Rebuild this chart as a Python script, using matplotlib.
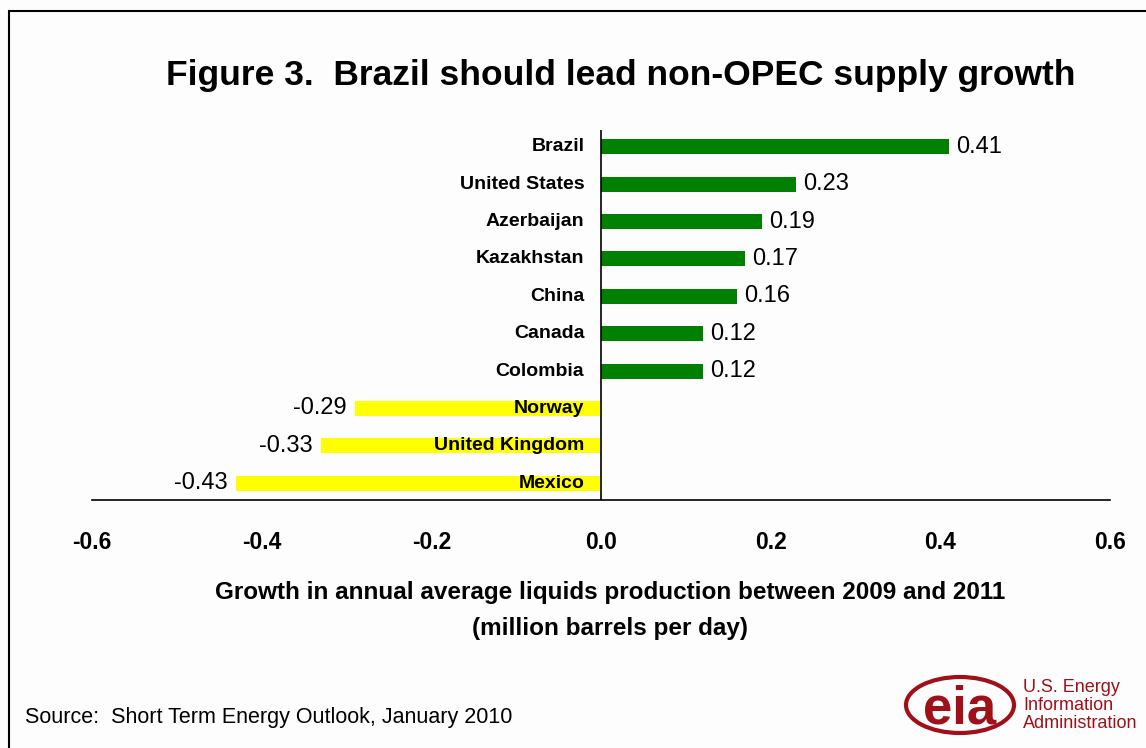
import matplotlib.pyplot as plt
from matplotlib.patches import Rectangle, Ellipse

plt.rcParams['font.family'] = ['Liberation Sans', 'DejaVu Sans']

countries = ['Brazil', 'United States', 'Azerbaijan', 'Kazakhstan', 'China',
             'Canada', 'Colombia', 'Norway', 'United Kingdom', 'Mexico']
growth = [0.41, 0.23, 0.19, 0.17, 0.16, 0.12, 0.12, -0.29, -0.33, -0.43]
xticks = [-0.6, -0.4, -0.2, 0.0, 0.2, 0.4, 0.6]

green = '#008000'
yellow = '#ffff00'

fig = plt.figure(figsize=(11.46, 7.48), dpi=100, facecolor='#fdfdfd')
ax = fig.add_axes([92/1146, 1 - 500/748, (1110-92)/1146, (500-130)/748])
ax.set_facecolor('none')

n = len(countries)
ypos = [n - 1 - i for i in range(n)]
colors = [green if v > 0 else yellow for v in growth]
ax.barh(ypos, growth, height=0.4, color=colors)

for y, v, name in zip(ypos, growth, countries):
    ax.annotate(name, (0, y), xytext=(-12, 0), textcoords='offset points',
                ha='right', va='center', fontsize=14, fontweight='bold')
    if v > 0:
        ax.annotate(f'{v:.2f}', (v, y), xytext=(5, 0), textcoords='offset points',
                    ha='left', va='center', fontsize=17)
    else:
        ax.annotate(f'{v:.2f}', (v, y), xytext=(-6, 0), textcoords='offset points',
                    ha='right', va='center', fontsize=17)

ax.set_xlim(-0.6, 0.6)
ax.set_ylim(-0.45, n - 1 + 0.45)
ax.axvline(0, color='black', lw=1.2)
for s in ['top', 'right', 'left']:
    ax.spines[s].set_visible(False)
ax.spines['bottom'].set_linewidth(1.2)
ax.set_yticks([])
ax.set_xticks(xticks)
ax.set_xticklabels([f'{t:.1f}' for t in xticks], fontsize=16.5, fontweight='bold')
ax.tick_params(axis='x', length=0, pad=22)

fig.text(621/1146, 1 - 76/748, 'Figure 3.  Brazil should lead non-OPEC supply growth',
         ha='center', va='center', fontsize=25.5, fontweight='bold')
fig.text(610/1146, 1 - 592/748, 'Growth in annual average liquids production between 2009 and 2011',
         ha='center', va='center', fontsize=17.5, fontweight='bold')
fig.text(610/1146, 1 - 628/748, '(million barrels per day)',
         ha='center', va='center', fontsize=17.5, fontweight='bold')
fig.text(25/1146, 1 - 718/748, 'Source:  Short Term Energy Outlook, January 2010',
         ha='left', va='center', fontsize=15.5)

# frame
fig.patches.append(Rectangle((9/1146, -0.01), 1.1, 1 - 11/748 + 0.01,
                             transform=fig.transFigure, fill=False,
                             edgecolor='black', lw=1.5))

# eia logo
red = '#a01018'
fig.patches.append(Ellipse((960/1146, 1 - 705/748), 108/1146, 56/748,
                           transform=fig.transFigure, fill=False,
                           edgecolor=red, lw=3))
fig.text(960/1146, 1 - 709/748, 'eia', ha='center', va='center', fontsize=38,
         fontweight='bold', color=red)
fig.text(1023/1146, 1 - 688/748, 'U.S. Energy', ha='left', va='center', fontsize=13, color=red)
fig.text(1023/1146, 1 - 706/748, 'Information', ha='left', va='center', fontsize=13, color=red)
fig.text(1023/1146, 1 - 724/748, 'Administration', ha='left', va='center', fontsize=13, color=red)

fig.savefig('out.png', dpi=100, facecolor=fig.get_facecolor())
